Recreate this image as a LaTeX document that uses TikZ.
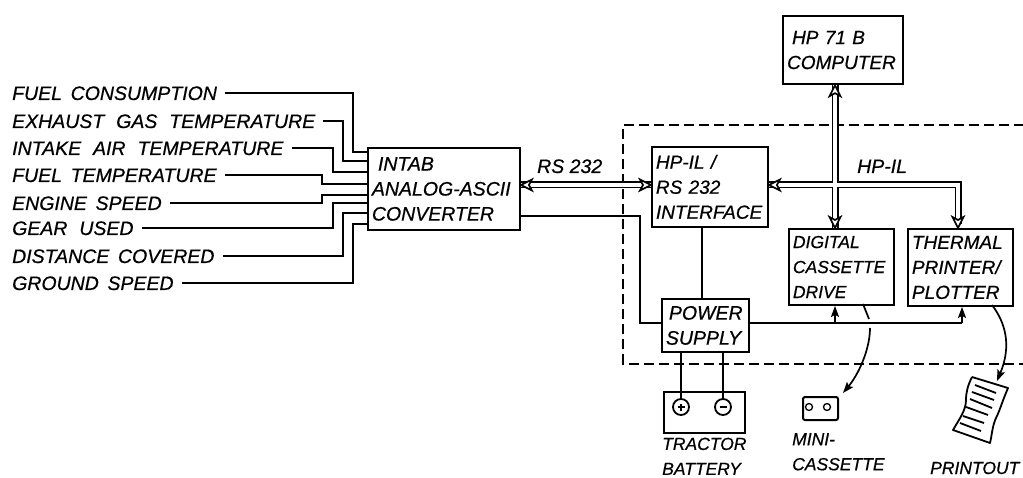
\documentclass[tikz,border=0pt]{standalone}
\usepackage{fontspec}
\setmainfont{Liberation Sans}[ItalicFeatures={FakeBold=0.6}]
\usetikzlibrary{arrows.meta,calc}
\hyphenpenalty=10000
\exhyphenpenalty=10000
\tikzset{
  base font/.style={font=\fontsize{19.5}{25}\selectfont\itshape},
  mid font/.style={font=\fontsize{19}{25}\selectfont\itshape},
  small font/.style={font=\fontsize{17.5}{25}\selectfont\itshape},
  lab/.style={base font,inner sep=0pt,anchor=west,text height=14pt,text depth=0pt},
  mlab/.style={small font,inner sep=0pt,anchor=north west,align=left},
  bx/.style 2 args={draw,line width=1.9pt,base font,inner xsep=4pt,inner ysep=0pt,
     text width=#1pt-8pt,minimum height=#2pt,align=left,anchor=north west},
  wire/.style={line width=1.7pt},
  sig/.style={line width=1.7pt,shorten <=8pt},
  dashbox/.style={line width=1.7pt,dash pattern=on 10pt off 5pt},
  arw/.style={line width=1.7pt,-{Stealth[length=11pt,width=8pt,inset=2pt]}},
  busb/.style={line width=7pt,black},
  busw/.style={line width=3.6pt,white},
  tip/.style={line width=1.7pt,fill=white,line join=miter},
}
\newcommand{\bustip}[2]{\draw[tip,shift={(#1)},rotate=#2] (0,0) -- (-11,-5.5) -- (-8,0) -- (-11,5.5) -- cycle;}
\begin{document}
\begin{tikzpicture}[x=1pt,y=-1pt]
\useasboundingbox (0,0) rectangle (1023,478);
\clip (0,0) rectangle (1023,478);
% dashed enclosure
\coordinate (dnw) at (623,125);
\coordinate (dsw) at (623,364);
\coordinate (dse) at (1023.5,364);
\coordinate (dne) at (1023.5,125);
\draw[dashbox] (dne) -- (dnw) -- (dsw) -- (dse) -- (dne);
% left labels
\node[lab] (l1) at (12,93) {FUEL\, CONSUMPTION};
\node[lab] (l2) at (12,121) {EXHAUST\,\, GAS\,\, TEMPERATURE};
\node[lab] (l3) at (12,148) {INTAKE\,\, AIR\,\, TEMPERATURE};
\node[lab] (l4) at (12,175) {FUEL\, TEMPERATURE};
\node[lab] (l5) at (12,203) {ENGINE\, SPEED};
\node[lab] (l6) at (12,228) {GEAR\,\, USED};
\node[lab] (l7) at (12,256) {DISTANCE\, COVERED};
\node[lab] (l8) at (12,283) {GROUND\, SPEED};
% boxes
\node[bx={152}{82}] (intab) at (367,147) {\hspace*{6pt}INTAB\\ANALOG-ASCII\\CONVERTER};
\node[bx={120}{68},line width=2.2pt,mid font] (comp) at (782,15) {\hspace*{5pt}HP 71 B\\COMPUTER};
\node[bx={116}{80},mid font] (hpil) at (651,146) {HP-IL /\\RS 232\\INTERFACE};
\node[bx={105}{76},small font] (digital) at (788,228) {DIGITAL\\CASSETTE\\DRIVE};
\node[bx={105}{77},mid font] (thermal) at (907,228) {THERMAL\\PRINTER/\\PLOTTER};
\node[bx={87}{53}] (power) at (661,298) {\hspace*{3pt}POWER\\SUPPLY};
\node[draw,line width=1.6pt,minimum width=81pt,minimum height=41pt,inner sep=0pt,anchor=north west] (batt) at (663,391) {};
\node[draw,line width=1.8pt,circle,minimum size=16pt,inner sep=0pt,fill=white] (plus) at (681,407) {};
\node[draw,line width=1.8pt,circle,minimum size=16pt,inner sep=0pt,fill=white] (minus) at (723,407) {};
\draw[line width=1.8pt] ($(plus.center)+(-3.5,0)$) -- ($(plus.center)+(3.5,0)$) ($(plus.center)+(0,-3.5)$) -- ($(plus.center)+(0,3.5)$);
\draw[line width=1.8pt] ($(minus.center)+(-3.5,0)$) -- ($(minus.center)+(3.5,0)$);
% minicassette
\node[draw,line width=2pt,rounded corners=2pt,minimum width=35pt,minimum height=23pt,inner sep=0pt,anchor=north west] (mini) at (802,396) {};
\node[draw,line width=1.3pt,circle,minimum size=7pt,inner sep=0pt] (hubl) at (809,407) {};
\node[draw,line width=1.3pt,circle,minimum size=7pt,inner sep=0pt] (hubr) at (827,407) {};
% printout
\coordinate (pnw) at (972,377);
\coordinate (pne) at (1008,388);
\coordinate (pse) at (990,443);
\coordinate (psw) at (953,430);
\draw[line width=1.8pt,line join=round] (pnw) -- (pne)
  .. controls (1002,402) and (1000,410) .. (996,418) .. controls (992,427) and (992,435) .. (pse)
  -- (psw) .. controls (960,418) and (966,410) .. (966,400) .. controls (966,392) and (968,385) .. (pnw);
\foreach \a/\b/\c/\d in {975/385/996/393, 972/392/994/400, 970/399/992/408, 966/407/988/415, 963/416/984/423, 960/423/981/431}{
  \draw[line width=1.8pt] (\a,\b) -- (\c,\d);
}
% labels
\node[lab] (rs) at (537,166) {RS 232};
\node[lab] (hpl) at (857,166) {HP-IL};
\node[mlab] (tract) at (662,437.5) {TRACTOR\\BATTERY};
\node[mlab] (minil) at (792,433) {MINI-\\CASSETTE};
\node[lab,small font] (printl) at (930,467) {PRINTOUT};
% input wires
\draw[sig] (l1.east) -| (353,152) -- (intab.west |- 353,152);
\draw[sig] (l2.east) -| (343,161) -- (intab.west |- 343,161);
\draw[sig] (l3.east) -| (333,172) -- (intab.west |- 333,172);
\draw[sig] (l4.east) -| (322,184) -- (intab.west |- 322,184);
\draw[sig] (l5.east) -| (322,195) -- (intab.west |- 322,195);
\draw[sig] (l6.east) -| (333,203) -- (intab.west |- 333,203);
\draw[sig] (l7.east) -| (343,213) -- (intab.west |- 343,213);
\draw[sig] (l8.east) -| (353,224) -- (intab.west |- 353,224);
% power wiring
\coordinate (pw1) at (640,216);
\coordinate (pwr) at (962,323);
\coordinate (pwd) at (835,323);
\coordinate (hpw) at (702,226);
\draw[wire] (intab.east |- pw1) -- (pw1) |- (power.west |- pwr);
\draw[wire] (hpil.south -| hpw) -- (power.north -| hpw);
\draw[wire] (power.east |- pwr) -- (pwr);
\draw[arw] (pwr) -- (thermal.south -| pwr);
\draw[arw] (pwd) -- (digital.south -| pwd);
\draw[wire] (plus.north |- power.south) -- (plus.north);
\draw[wire] (minus.north |- power.south) -- (minus.north);
% media arrows
\coordinate (da) at (863,304);
\coordinate (db) at (869,319);
\coordinate (dc) at (870,328);
\coordinate (dd) at (843,393);
\draw[wire] (da) .. controls (865,309) and (867,314) .. (db);
\draw[arw] (dc) .. controls (870,350) and (858,375) .. (dd);
\coordinate (ta) at (992,305);
\coordinate (tb) at (997,381);
\draw[arw] (ta) .. controls (1005,322) and (1012,345) .. (tb);
% HP-IL bus
\coordinate (j) at (835,185);
\coordinate (jt) at (958,185);
\coordinate (rsl) at (523,185);
\coordinate (rsr) at (640,185);
\path (comp.south -| j) coordinate (t1);
\path (digital.north -| j) coordinate (t2);
\path (hpil.east |- j) coordinate (t3);
\path (thermal.north -| jt) coordinate (t4);
\path (intab.east |- rsl) coordinate (t5);
\path (hpil.west |- rsr) coordinate (t6);
\draw[busb] (t5) -- (t6);
\draw[busb] (t1) -- (t2);
\draw[busb] (t3) -- (jt) -- ($(t4)+(0,-4)$);
\draw[busw] (t5) -- (t6);
\draw[busw] (t1) -- (t2);
\draw[busw] (t3) -- (jt) -- ($(t4)+(0,-4)$);
\bustip{t1}{90}
\bustip{t2}{-90}
\bustip{t3}{180}
\bustip{t4}{-90}
\bustip{t5}{180}
\bustip{t6}{0}
\end{tikzpicture}
\end{document}
